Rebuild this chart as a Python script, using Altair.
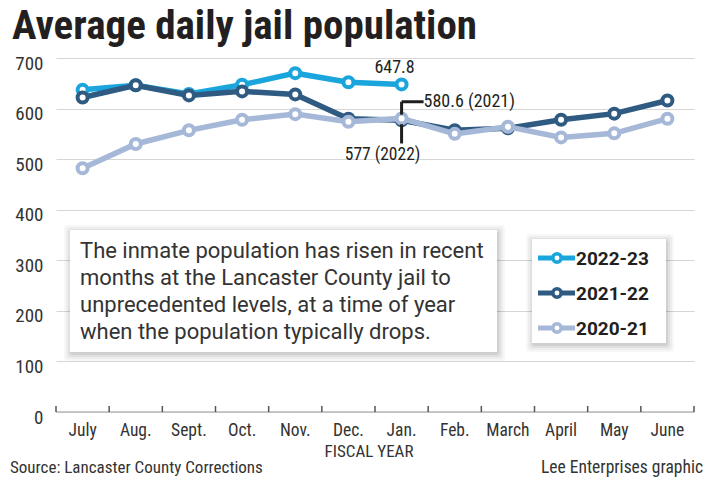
import altair as alt
import pandas as pd

months = ["July", "Aug.", "Sept.", "Oct.", "Nov.", "Dec.", "Jan.", "Feb.", "March", "April", "May", "June"]
series_names = ["2022-23", "2021-22", "2020-21"]
series_colors = ["#1ba5dd", "#2f5b82", "#a6b8d8"]
v2223 = [637, 646, 629, 647, 670, 652, 647.8]
v2122 = [622, 646, 626, 634, 628, 580, 577, 557, 561, 578, 590, 616]
v2021 = [482, 530, 557, 578, 589, 574, 580.6, 550, 564, 543, 551, 580]
y_ticks = [0, 100, 200, 300, 400, 500, 600, 700]

title_text = "Average daily jail population"
box_lines = ["The inmate population has risen in recent",
             "months at the Lancaster County jail to",
             "unprecedented levels, at a time of year",
             "when the population typically drops."]
source_text = "Source: Lancaster County Corrections"
credit_text = "Lee Enterprises graphic"
x_title = "FISCAL YEAR"

COND = "'Roboto Condensed', Roboto, sans-serif"
REG = "Roboto, sans-serif"
W, H = 638, 354
DARK = "#231f20"

xscale = alt.Scale(type="band", domain=months, paddingInner=0, paddingOuter=0)
yscale = alt.Scale(domain=[0, 700], nice=False, zero=True)
XAXIS = alt.Axis(title=None, ticks=False, domain=False, labelPadding=9,
                 labelFontSize=17.5, labelFont=COND, labelColor="#333", labelAngle=0, grid=False)
YAXIS = alt.Axis(title=None, values=y_ticks, ticks=False, domain=False,
                 labelPadding=13, labelFontSize=19, labelFont=COND, labelOffset=5,
                 labelColor="#333", grid=True, gridColor="#d6d6d6", gridWidth=1)

def xenc(band=0.5):
    return alt.X("month:N", sort=months, scale=xscale, axis=XAXIS, bandPosition=band)

def yenc():
    return alt.Y("value:Q", scale=yscale, axis=YAXIS)

all_vals = {"2022-23": v2223, "2021-22": v2122, "2020-21": v2021}
frames = {k: pd.DataFrame({"month": months[:len(v)], "value": v}) for k, v in all_vals.items()}

layers = []

# zero line and ticks
layers.append(alt.Chart(pd.DataFrame({"value": [0]})).mark_rule(color="#b8b8b8", strokeWidth=1.5).encode(
    y=yenc(), x=alt.value(0), x2=alt.value(W)))
layers.append(alt.Chart(pd.DataFrame({"month": months, "value": [0] * len(months)})).mark_rule(
    color="#555555", strokeWidth=1.5).encode(x=xenc(band=0), y=alt.value(H - 6), y2=alt.value(H)))
layers.append(alt.Chart(pd.DataFrame({"a": [0]})).mark_rule(color="#555555", strokeWidth=1.5).encode(
    x=alt.value(W), y=alt.value(H - 6), y2=alt.value(H)))

# series
for name, color in zip(series_names, series_colors):
    d = frames[name]
    layers.append(alt.Chart(d).mark_line(color=color, strokeWidth=5.5).encode(x=xenc(), y=yenc()))
    layers.append(alt.Chart(d).mark_point(shape="circle", filled=False, fill="white", fillOpacity=1,
                                          stroke=color, strokeWidth=4, size=100, opacity=1).encode(
        x=xenc(), y=yenc()))

# annotations
lead = "#1e1e1e"
layers.append(alt.Chart(pd.DataFrame({"month": ["Jan."], "value": [647.8], "t": ["647.8"]})).mark_text(
    font=COND, fontSize=18, color=DARK, dx=-7, dy=-16, baseline="middle").encode(
    x=xenc(), y=yenc(), text="t:N"))
layers.append(alt.Chart(pd.DataFrame({"month": ["Jan."], "value": [613.5], "v2": [588.0]})).mark_rule(
    color=lead, strokeWidth=3).encode(x=xenc(), y=yenc(), y2="v2:Q"))
layers.append(alt.Chart(pd.DataFrame({"month": ["Jan."], "value": [613.5]})).mark_rule(
    color=lead, strokeWidth=3, x2Offset=22).encode(x=xenc(), x2=alt.X2("month:N"), y=yenc()))
layers.append(alt.Chart(pd.DataFrame({"month": ["Jan."], "value": [613.5], "t": ["580.6 (2021)"]})).mark_text(
    font=COND, fontSize=18, color=DARK, align="left", dx=22, baseline="middle").encode(
    x=xenc(), y=yenc(), text="t:N"))
layers.append(alt.Chart(pd.DataFrame({"month": ["Jan."], "value": [569.0], "v2": [531.0]})).mark_rule(
    color=lead, strokeWidth=3).encode(x=xenc(), y=yenc(), y2="v2:Q"))
layers.append(alt.Chart(pd.DataFrame({"month": ["Jan."], "value": [508.0], "t": ["577 (2022)"]})).mark_text(
    font=COND, fontSize=17.5, color=DARK, align="center", dx=-19, baseline="middle").encode(
    x=xenc(), y=yenc(), text="t:N"))

one = pd.DataFrame({"a": [0]})

def shadow_box(x0, y0, x1, y1):
    out = []
    for i, op in zip([7, 5, 3, 1], [0.03, 0.04, 0.05, 0.07]):
        out.append(alt.Chart(one).mark_rect(color="black", opacity=op, cornerRadius=3).encode(
            x=alt.value(x0 - i + 1), x2=alt.value(x1 + i + 1), y=alt.value(y0 - i + 2), y2=alt.value(y1 + i + 2)))
    out.append(alt.Chart(one).mark_rect(color="white").encode(
        x=alt.value(x0), x2=alt.value(x1), y=alt.value(y0), y2=alt.value(y1)))
    return out

# text box
layers += shadow_box(14, 172, 441, 294)
layers.append(alt.Chart(one).mark_text(text=box_lines, font=REG, fontSize=22, color="#333",
                                       align="left", baseline="alphabetic", lineHeight=27).encode(
    x=alt.value(24), y=alt.value(200)))

# legend
layers += shadow_box(476, 181, 610, 285)
for i, (name, color) in enumerate(zip(series_names, series_colors)):
    yy = 200 + i * 35
    layers.append(alt.Chart(one).mark_rule(color=color, strokeWidth=5).encode(
        x=alt.value(482), x2=alt.value(519), y=alt.value(yy)))
    layers.append(alt.Chart(one).mark_point(shape="circle", filled=False, fill="white", fillOpacity=1,
                                            stroke=color, strokeWidth=3.5, size=70, opacity=1).encode(
        x=alt.value(501), y=alt.value(yy)))
    layers.append(alt.Chart(one).mark_text(text=name, font=REG, fontSize=19, fontWeight="bold",
                                           color=DARK, align="left", baseline="middle").encode(
        x=alt.value(520), y=alt.value(yy + 1)))

# title & footers
layers.append(alt.Chart(one).mark_text(text=title_text, font=COND, fontSize=41, fontWeight="bold",
                                       color=DARK, align="left", baseline="alphabetic").encode(
    x=alt.value(-44), y=alt.value(-19)))
layers.append(alt.Chart(one).mark_text(text=x_title, font=COND, fontSize=17, color="#333",
                                       align="center", baseline="middle").encode(
    x=alt.value(313), y=alt.value(H + 40)))
layers.append(alt.Chart(one).mark_text(text=source_text, font=COND, fontSize=17, color="#333",
                                       align="left", baseline="middle").encode(
    x=alt.value(-46), y=alt.value(H + 56)))
layers.append(alt.Chart(one).mark_text(text=credit_text, font=COND, fontSize=17.5, color="#333",
                                       align="right", baseline="middle").encode(
    x=alt.value(647), y=alt.value(H + 56)))

chart = alt.layer(*layers).properties(
    width=W, height=H,
    autosize=alt.AutoSizeParams(type="none"),
    padding={"left": 48, "top": 50, "right": 9, "bottom": 66},
    background="white",
).configure_view(stroke=None)

chart.save("out.html", embed_options={"renderer": "svg", "actions": False})
